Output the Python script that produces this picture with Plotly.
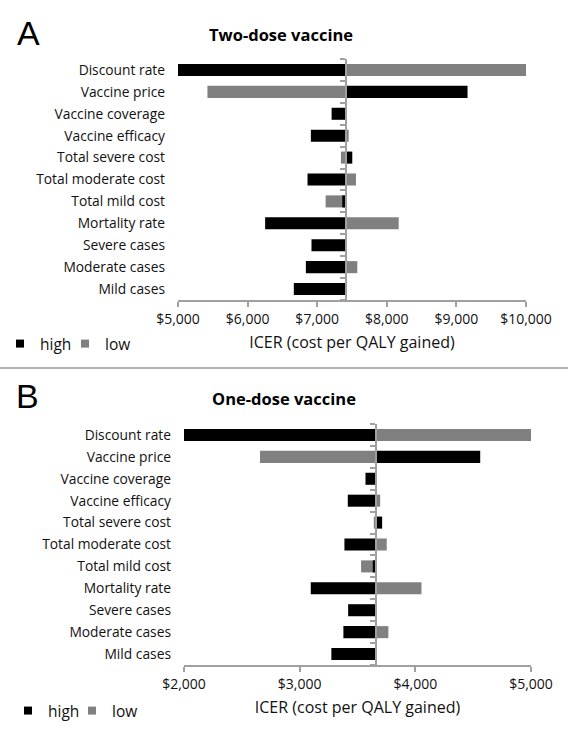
import plotly.graph_objects as go

# ---------------- data ----------------
categories = ["Discount rate", "Vaccine price", "Vaccine coverage", "Vaccine efficacy",
              "Total severe cost", "Total moderate cost", "Total mild cost",
              "Mortality rate", "Severe cases", "Moderate cases", "Mild cases"]

# Panel A: two-dose vaccine
two_base = 7413
two_high = [5000, 9160, 7207, 6909, 7504, 6861, 7360, 6252, 6918, 6837, 6664]
two_low = [10020, 5423, 7413, 7452, 7341, 7557, 7121, 8171, 7413, 7576, 7413]
two_ticks = [5000, 6000, 7000, 8000, 9000, 10000]
two_ticktext = ["$5,000", "$6,000", "$7,000", "$8,000", "$9,000", "$10,000"]

# Panel B: one-dose vaccine
one_base = 3661
one_high = [2000, 4561, 3569, 3416, 3713, 3387, 3632, 3096, 3419, 3378, 3274]
one_low = [5010, 2657, 3661, 3696, 3641, 3753, 3531, 4053, 3661, 3767, 3661]
one_ticks = [2000, 3000, 4000, 5000]
one_ticktext = ["$2,000", "$3,000", "$4,000", "$5,000"]

# ---------------- layout helpers ----------------
W, H = 568, 734
FONT = "Open Sans"
BLACK = "#000000"
GRAY = "#808080"
AXGRAY = "#a0a0a0"
TXT = "#111111"


def fx(p):
    return p / W


def fy(p):
    return 1 - p / H


fig = go.Figure()

panels = [
    dict(high=two_high, low=two_low, base=two_base, ticks=two_ticks, ticktext=two_ticktext,
         xd=(178, 526), yd=(59, 300), xa="x", ya="y", ya3="y3",
         leg_high="legend", leg_low="legend2"),
    dict(high=one_high, low=one_low, base=one_base, ticks=one_ticks, ticktext=one_ticktext,
         xd=(184, 531), yd=(424, 665), xa="x2", ya="y2", ya3="y4",
         leg_high="legend3", leg_low="legend4"),
]

for p in panels:
    lows = [v - p["base"] for v in p["low"]]
    highs = [v - p["base"] for v in p["high"]]
    fig.add_trace(go.Bar(y=categories, x=lows, base=p["base"], orientation="h",
                         marker=dict(color=GRAY, line=dict(width=0)), width=0.55,
                         xaxis=p["xa"], yaxis=p["ya"], showlegend=False, name="low"))
    fig.add_trace(go.Bar(y=categories, x=highs, base=p["base"], orientation="h",
                         marker=dict(color=BLACK, line=dict(width=0)), width=0.55,
                         xaxis=p["xa"], yaxis=p["ya"], showlegend=False, name="high"))
    # legend entries
    fig.add_trace(go.Scatter(x=[None], y=[None], mode="markers", name="high",
                             marker=dict(symbol="square", size=8, color=BLACK),
                             xaxis=p["xa"], yaxis=p["ya"], legend=p["leg_high"]))
    fig.add_trace(go.Scatter(x=[None], y=[None], mode="markers", name="low",
                             marker=dict(symbol="square", size=8, color=GRAY),
                             xaxis=p["xa"], yaxis=p["ya"], legend=p["leg_low"]))
    # dummy trace for the baseline axis
    fig.add_trace(go.Scatter(x=[None], y=[None], mode="markers", showlegend=False,
                             xaxis=p["xa"], yaxis=p["ya3"], hoverinfo="skip"))

n = len(categories)
for i, p in enumerate(panels):
    xkey = "xaxis" if i == 0 else "xaxis2"
    ykey = "yaxis" if i == 0 else "yaxis2"
    y3key = "yaxis3" if i == 0 else "yaxis4"
    lo, hi = p["ticks"][0], p["ticks"][-1]
    fig.layout[xkey] = dict(
        domain=[fx(p["xd"][0]), fx(p["xd"][1])], anchor=p["ya"], range=[lo, hi],
        tickmode="array", tickvals=p["ticks"], ticktext=p["ticktext"],
        showline=True, linecolor=AXGRAY, linewidth=1.5, automargin=False,
        ticks="outside", ticklen=5, tickcolor=AXGRAY, tickwidth=1.5,
        showgrid=False, zeroline=False,
        tickfont=dict(family=FONT, size=14, color=TXT),
        title=dict(text="ICER (cost per QALY gained)", standoff=10,
                   font=dict(family=FONT, size=16, color=TXT)),
    )
    fig.layout[ykey] = dict(
        domain=[fy(p["yd"][1]), fy(p["yd"][0])], anchor=p["xa"],
        type="category", categoryorder="array", categoryarray=categories,
        range=[n - 0.5, -0.5], showline=False, ticks="", showgrid=False,
        ticklabelstandoff=12, automargin=False,
        tickfont=dict(family=FONT, size=13.8, color=TXT),
    )
    frac = (p["base"] - lo) / (hi - lo)
    pos = fx(p["xd"][0] + frac * (p["xd"][1] - p["xd"][0]))
    fig.layout[y3key] = dict(
        overlaying=p["ya"], anchor="free", position=pos, side="left",
        range=[n - 0.5, -0.5], tickvals=[k - 0.5 for k in range(n + 1)],
        showticklabels=False, showline=True, linecolor=AXGRAY, linewidth=1.5,
        ticks="outside", ticklen=5, tickcolor=AXGRAY, tickwidth=1.5,
        showgrid=False, zeroline=False, automargin=False,
    )


def leg(xp, yp):
    return dict(orientation="h", x=fx(xp), y=fy(yp), xanchor="left", yanchor="middle",
                font=dict(family=FONT, size=15.5, color=TXT), itemwidth=30,
                bgcolor="rgba(0,0,0,0)")


fig.update_layout(
    width=W, height=H, margin=dict(l=0, r=0, t=0, b=0, autoexpand=False),
    paper_bgcolor="white", plot_bgcolor="white", barmode="overlay",
    font=dict(family=FONT, size=14, color=TXT),
    legend=leg(0, 344), legend2=leg(65, 344),
    legend3=leg(8, 711), legend4=leg(72, 711),
    shapes=[dict(type="line", xref="paper", yref="paper", x0=0, x1=1,
                 y0=fy(368), y1=fy(368), line=dict(color="#999999", width=1.5))],
    annotations=[
        dict(text="A", x=fx(15), y=fy(33), xref="paper", yref="paper", xanchor="left",
             yanchor="middle", showarrow=False,
             font=dict(family="Liberation Sans", size=34, color="black")),
        dict(text="B", x=fx(14), y=fy(396), xref="paper", yref="paper", xanchor="left",
             yanchor="middle", showarrow=False,
             font=dict(family="Liberation Sans", size=34, color="black")),
        dict(text="<b>Two-dose vaccine</b>", x=fx(281), y=fy(34), xref="paper", yref="paper",
             xanchor="center", yanchor="middle", showarrow=False,
             font=dict(family=FONT, size=16.5, color="black")),
        dict(text="<b>One-dose vaccine</b>", x=fx(284), y=fy(398), xref="paper", yref="paper",
             xanchor="center", yanchor="middle", showarrow=False,
             font=dict(family=FONT, size=16.5, color="black")),
    ],
)

fig.write_html("out.html", config={"displayModeBar": False},
               post_script="document.body.style.margin='0px';")
